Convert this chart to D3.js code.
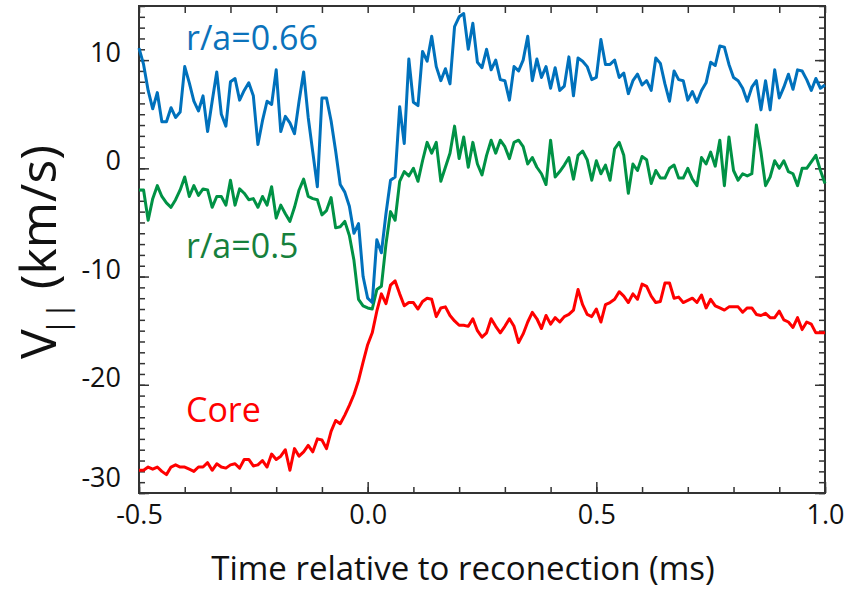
<!DOCTYPE html>
<html><head><meta charset="utf-8">
<script src="https://cdn.jsdelivr.net/npm/d3@7"></script>
<style>body{margin:0;background:#fff}svg{display:block}</style>
</head><body><svg id="c" width="857" height="591"></svg>
<script>
// sampling grid of the traces (ms)
const tStart = -0.5, tStep = 0.01;
// r/a = 0.66 (blue)
const seriesOuter = [11.1,9.6,7.2,5.5,7.0,4.3,4.3,5.6,4.7,5.2,
 9.4,7.9,6.2,5.3,6.7,3.4,6.2,8.9,5.0,3.9,
 8.0,8.3,6.3,7.2,7.9,6.7,2.2,4.4,6.2,5.9,
 9.1,3.4,4.8,4.2,3.2,6.2,8.9,4.7,1.5,-1.7,
 6.5,6.5,4.4,1.6,-1.5,-2.2,-3.5,-6.0,-5.1,-10.0,
 -12.0,-12.4,-6.6,-7.8,-4.2,-1.1,-0.8,5.7,2.3,10.1,
 6.1,5.8,10.8,9.9,12.2,9.4,8.1,9.2,7.8,13.1,
 14.0,14.3,11.0,13.4,9.8,9.3,11.0,9.1,10.0,8.2,
 8.1,6.3,9.4,9.0,10.0,12.2,8.1,10.1,8.4,9.4,
 7.4,9.3,7.2,7.6,10.3,6.7,10.2,9.9,9.4,8.2,
 8.4,11.9,9.6,9.6,10.0,8.4,8.8,6.9,8.1,8.7,
 7.7,8.1,7.2,10.2,9.7,7.8,6.2,9.0,8.2,8.1,
 6.3,7.1,6.1,7.2,7.9,9.8,9.5,11.3,11.2,9.6,
 8.4,8.1,7.4,6.2,7.5,8.1,5.4,8.1,5.4,9.1,
 6.5,7.5,8.7,7.3,9.1,9.0,8.2,7.2,8.3,7.4,
 7.7];
// r/a = 0.5 (green)
const seriesMid = [-2.0,-2.0,-4.8,-2.8,-1.6,-2.6,-3.2,-3.6,-2.9,-2.0,
 -0.8,-2.6,-1.6,-2.5,-1.9,-2.0,-3.6,-2.6,-2.6,-3.4,
 -1.1,-3.4,-1.9,-2.3,-2.9,-2.8,-3.6,-2.6,-3.4,-1.7,
 -4.6,-3.4,-4.2,-4.9,-3.6,-2.0,-1.0,-2.6,-2.8,-2.9,
 -4.3,-3.9,-2.7,-5.5,-5.4,-4.9,-6.2,-8.5,-12.1,-12.7,
 -12.9,-13.0,-11.2,-10.9,-7.0,-4.0,-4.8,-1.2,-0.3,-0.7,
 0.0,-1.2,0.7,2.4,1.4,2.4,-1.2,0.1,1.4,3.9,
 0.9,2.9,0.1,2.4,0.4,-0.6,1.2,2.6,1.4,2.6,
 2.0,0.9,2.4,2.6,2.0,0.4,1.0,0.1,-0.5,-1.5,
 2.6,-0.8,-0.3,0.3,1.0,-1.0,1.2,1.6,0.8,-1.1,
 0.7,-0.5,0.3,-1.1,1.8,2.4,1.2,-2.3,0.4,-0.2,
 1.1,0.8,-1.4,-0.2,-0.9,-0.9,0.0,0.3,-0.9,-0.9,
 0.0,-1.0,-1.6,1.0,0.4,1.5,0.2,2.6,-1.6,2.9,
 -0.2,-1.1,-0.5,-0.7,-0.5,4.0,1.5,-1.6,-0.8,0.7,
 0.0,0.7,-0.3,-0.5,-1.6,0.0,0.0,0.6,1.2,-0.2,
 -1.4];
// Core (red)
const seriesCore = [-27.9,-27.9,-27.6,-27.8,-27.6,-28.0,-28.3,-27.6,-27.4,-27.6,
 -27.6,-27.8,-28.0,-27.6,-27.6,-27.2,-27.9,-27.3,-27.6,-27.7,
 -27.4,-27.3,-27.7,-26.9,-26.9,-27.5,-27.4,-27.0,-27.6,-26.4,
 -26.9,-26.6,-26.0,-27.9,-25.9,-26.6,-26.2,-25.6,-26.2,-25.0,
 -25.1,-25.9,-24.3,-23.3,-23.6,-22.8,-21.9,-20.9,-19.6,-17.9,
 -16.3,-15.2,-13.2,-11.6,-12.5,-10.8,-10.4,-11.6,-12.7,-12.4,
 -12.4,-13.0,-12.3,-12.0,-12.1,-13.7,-12.9,-12.8,-13.6,-14.1,
 -14.5,-14.5,-14.6,-13.9,-15.0,-15.6,-15.2,-13.9,-14.6,-15.2,
 -14.6,-13.9,-14.6,-16.1,-15.3,-14.2,-13.3,-13.9,-14.8,-13.6,
 -14.4,-13.8,-14.2,-13.7,-13.5,-13.1,-11.2,-12.6,-13.5,-13.7,
 -13.0,-14.2,-12.6,-12.4,-12.1,-11.4,-11.8,-12.4,-11.6,-12.1,
 -10.7,-10.9,-11.8,-12.4,-12.3,-10.6,-10.6,-12.0,-11.9,-12.4,
 -12.2,-12.0,-12.4,-11.7,-12.9,-12.1,-12.7,-12.9,-13.1,-12.8,
 -12.8,-12.8,-13.3,-12.9,-12.9,-13.5,-13.6,-13.4,-13.8,-13.8,
 -13.2,-14.0,-14.2,-14.7,-13.8,-14.9,-14.2,-14.4,-15.2,-15.2,
 -15.2];
const seriesNames = ["r/a=0.66","r/a=0.5","Core"];
const xTicks = [-0.5, 0.0, 0.5, 1.0];
const xTickLabels = ["-0.5","0.0","0.5","1.0"];
const yTicks = [10, 0, -10, -20, -30];
const yTickLabels = ["10","0","-10","-20","-30"];
const xTitle = "Time relative to reconection (ms)";

const svg = d3.select("#c");
const L = 139, R = 825, T = 6, B = 493;
const x = d3.scaleLinear().domain([-0.5, 1.0]).range([L, R]);
const y = d3.scaleLinear().domain([-30, 15]).range([B, T]);
const FONT = "'Open Sans', 'Noto Sans', sans-serif";
const axisColor = "#333";

const xMinor = d3.range(-5, 11).map(d => d / 10);
const yMinor = d3.range(-30, 16);

function styleAxis(g) {
  g.select(".domain").remove();
  g.selectAll("line").attr("stroke", axisColor).attr("stroke-width", 1.5);
}
// minor ticks
svg.append("g").attr("transform", `translate(0,${B})`)
  .call(d3.axisBottom(x).tickValues(xMinor).tickSize(-6).tickFormat("")).call(styleAxis);
svg.append("g").attr("transform", `translate(0,${T})`)
  .call(d3.axisTop(x).tickValues(xMinor).tickSize(-7).tickFormat("")).call(styleAxis);
svg.append("g").attr("transform", `translate(${L},0)`)
  .call(d3.axisLeft(y).tickValues(yMinor).tickSize(-6).tickFormat("")).call(styleAxis);
svg.append("g").attr("transform", `translate(${R},0)`)
  .call(d3.axisRight(y).tickValues(yMinor).tickSize(-6).tickFormat("")).call(styleAxis);
// major ticks
const gx = svg.append("g").attr("transform", `translate(0,${B})`)
  .call(d3.axisBottom(x).tickValues(xTicks).tickSize(-11).tickPadding(12)
    .tickFormat((d, i) => xTickLabels[i])).call(styleAxis);
gx.selectAll("text").attr("font-family", FONT).attr("font-size", 27).attr("fill", "#111");
svg.append("g").attr("transform", `translate(${R},0)`)
  .call(d3.axisRight(y).tickValues(yTicks).tickSize(-10).tickFormat("")).call(styleAxis);
const gy = svg.append("g").attr("transform", `translate(${L},0)`)
  .call(d3.axisLeft(y).tickValues(yTicks).tickSize(-10).tickPadding(18)
    .tickFormat((d, i) => yTickLabels[i])).call(styleAxis);
gy.selectAll("text").attr("font-family", FONT).attr("font-size", 27).attr("fill", "#111")
  .attr("y", d => d === -30 ? -15 : -7);

// frame
svg.append("rect").attr("x", L).attr("y", T).attr("width", R - L).attr("height", B - T)
  .attr("fill", "none").attr("stroke", axisColor).attr("stroke-width", 2);

// lines
const line = d3.line().x((d, i) => x(tStart + i * tStep)).y(d => y(d));
const series = [
  {v: seriesCore, c: "#ff0000"},
  {v: seriesMid, c: "#009245"},
  {v: seriesOuter, c: "#0071bc"}
];
series.forEach(s => {
  svg.append("path").datum(s.v).attr("d", line).attr("fill", "none")
    .attr("stroke", s.c).attr("stroke-width", 3).attr("stroke-linejoin", "round");
});

// series labels
const lab = [
  {t: seriesNames[0], c: "#0b72bb", y: 50},
  {t: seriesNames[1], c: "#16803c", y: 258},
  {t: seriesNames[2], c: "#ff0000", y: 422}
];
lab.forEach(l => svg.append("text").attr("x", 186).attr("y", l.y).text(l.t)
  .attr("font-family", FONT).attr("font-size", 34).attr("fill", l.c));

// x title
svg.append("text").attr("x", 463).attr("y", 580).attr("text-anchor", "middle")
  .attr("font-family", FONT).attr("font-size", 33).attr("fill", "#111").text(xTitle);

// y title
const yt = svg.append("text").attr("transform", "translate(56,252) rotate(-90)")
  .attr("text-anchor", "middle").attr("font-family", FONT).attr("font-size", 50).attr("fill", "#111");
yt.append("tspan").text("V");
yt.append("tspan").attr("font-size", 30).attr("dy", 12).attr("dx", -6).text("||");
yt.append("tspan").attr("dy", -12).text(" (km/s)");
</script></body></html>
